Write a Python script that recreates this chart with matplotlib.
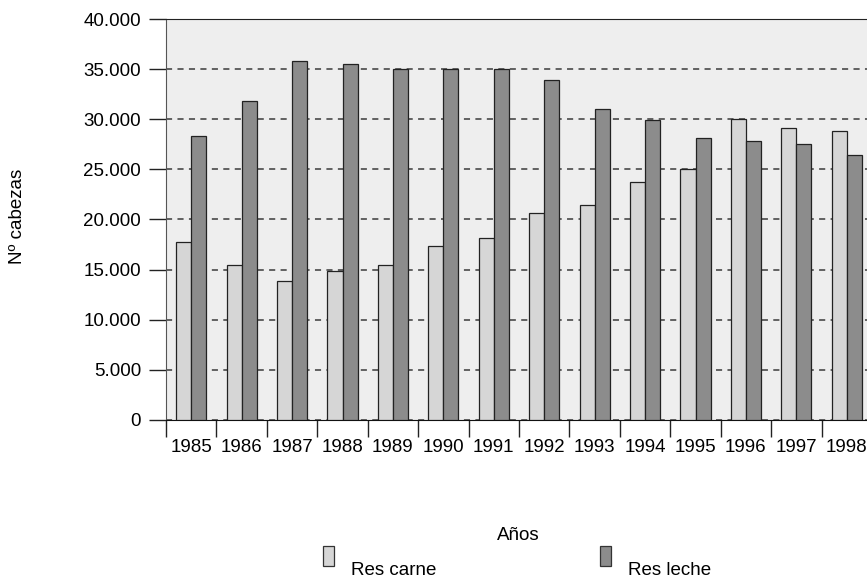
import numpy as np
import matplotlib.pyplot as plt
from matplotlib.patches import Rectangle
from matplotlib.ticker import FuncFormatter

plt.rcParams['font.family'] = ['Liberation Sans', 'DejaVu Sans']

# %% Data
years = ['1985', '1986', '1987', '1988', '1989', '1990', '1991',
         '1992', '1993', '1994', '1995', '1996', '1997', '1998']
res_carne = [17800, 15500, 13900, 14900, 15500, 17400, 18200,
             20600, 21400, 23700, 25000, 30000, 29100, 28800]
res_leche = [28300, 31800, 35800, 35500, 35000, 35000, 35000,
             33900, 31000, 29900, 28100, 27800, 27500, 26400]

light = '#d6d6d6'
dark = '#8c8c8c'
fs = 13.5

fig = plt.figure(figsize=(8.67, 5.78), dpi=100)
# axes run a little past the right edge, as in the original
ax = fig.add_axes([166 / 867, 1 - 420 / 578, 706 / 867, 401 / 578])
ax.set_facecolor('#eeeeee')

x = np.arange(len(years))
w = 0.3
ax.bar(x - w / 2, res_carne, w, color=light, edgecolor='#222222', linewidth=0.9, zorder=3)
ax.bar(x + w / 2, res_leche, w, color=dark, edgecolor='#222222', linewidth=0.9, zorder=3)

ax.set_xlim(-0.5, len(years) - 0.5)
ax.set_ylim(0, 40000)
ax.set_yticks(np.arange(0, 40001, 5000))
ax.yaxis.set_major_formatter(FuncFormatter(lambda v, p: f'{int(v):,}'.replace(',', '.')))
ax.yaxis.grid(True, linestyle=(0, (4, 3.5)), color='#3a3a3a', linewidth=1.1, zorder=1)

# ticks between categories, labels at the centres
ax.set_xticks(np.arange(-0.5, len(years) - 0.4, 1.0))
ax.set_xticklabels([])
ax.set_xticks(x, minor=True)
ax.set_xticklabels(years, minor=True)
ax.tick_params(axis='x', which='major', length=12, width=1, color='#222222', direction='out')
ax.tick_params(axis='x', which='minor', length=0, pad=14, labelsize=fs)
ax.tick_params(axis='y', length=12, width=1, color='#222222', pad=6, labelsize=fs)

ax.spines['left'].set_color('#555555')
ax.spines['bottom'].set_color('#111111')
ax.spines['top'].set_color('#222222')
ax.spines['right'].set_visible(False)

fig.text(518 / 867, 1 - 535 / 578, 'Años', ha='center', va='center', fontsize=fs)
fig.text(18 / 867, 1 - 216 / 578, 'Nº cabezas', ha='center', va='center',
         rotation=90, fontsize=fs)

# legend drawn by hand at the bottom
for px, col, label in [(323, light, 'Res carne'), (600, dark, 'Res leche')]:
    fig.add_artist(Rectangle((px / 867, 1 - 566 / 578), 11 / 867, 20 / 578,
                             transform=fig.transFigure, facecolor=col,
                             edgecolor='#333333', linewidth=0.9))
    fig.text((px + 28) / 867, 1 - 575 / 578, label, ha='left', va='baseline', fontsize=fs)

fig.savefig('out.png', dpi=100)
